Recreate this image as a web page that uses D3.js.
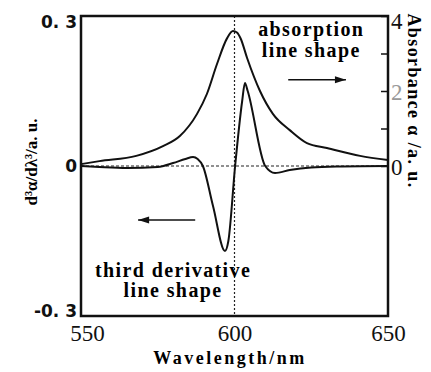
<!DOCTYPE html>
<html>
<head>
<meta charset="utf-8">
<script src="https://cdn.jsdelivr.net/npm/d3@7"></script>
<style>
  body { margin: 0; background: #fff; }
  svg { display: block; }
</style>
</head>
<body>
<svg id="chart"></svg>
<script>
// absorption line shape (right axis, absorbance)
var absWl  = [550, 556, 568, 576.7, 582.2, 587.8, 591, 594.3, 597.6, 599.5, 600.8, 602, 604.1, 608.3, 612.5, 618.1, 623.6, 630.1, 640.9, 650]
var absVal = [0.05, 0.13, 0.27, 0.53, 0.8, 1.39, 1.92, 2.72, 3.41, 3.6, 3.56, 3.4, 2.88, 2.0, 1.39, 0.95, 0.61, 0.48, 0.27, 0.16]

// third derivative line shape (left axis)
var derWl  = [550, 556, 565, 575, 580, 584, 586.5, 588, 589.7, 593, 596.9, 598, 600.2, 602.5, 603.4, 604.3, 610, 613.2, 618, 625, 635, 650]
var derVal = [0, -0.002, -0.004, -0.002, 0.006, 0.014, 0.018, 0.014, 0, -0.08, -0.17, -0.15, 0, 0.13, 0.166, 0.15, 0, -0.014, -0.008, -0.003, -0.001, 0]

var xTicks = [550, 600, 650]
var leftTicks = [-0.3, 0, 0.3]
var leftTickText = ["-0. 3", "0", "0. 3"]
var rightTicks = [0, 1, 2, 3, 4]
var rightTickText = {0: "0", 2: "2", 4: "4"}

var screen = { width: 431, height: 372 }
var margin = { left: 81, right: 43, top: 16, bottom: 56 }
var width = screen.width - margin.left - margin.right
var height = screen.height - margin.top - margin.bottom

var svg = d3.select("#chart")
  .attr("width", screen.width)
  .attr("height", screen.height)

var g = svg.append("g")
  .attr("transform", "translate(" + margin.left + "," + margin.top + ")")

var xScale = d3.scaleLinear().domain([550, 650]).range([0, width])
var yLeft = d3.scaleLinear().domain([-0.3, 0.3]).range([height, 0])
var yRight = d3.scaleLinear().domain([-4, 4]).range([height, 0])

// dotted guides at 600 nm and zero
g.append("line")
  .attr("x1", xScale(600)).attr("x2", xScale(600))
  .attr("y1", 0).attr("y2", height)
  .attr("stroke", "#222").attr("stroke-width", 1.2)
  .attr("stroke-dasharray", "2,2")
g.append("line")
  .attr("x1", 0).attr("x2", width)
  .attr("y1", yLeft(0)).attr("y2", yLeft(0))
  .attr("stroke", "#222").attr("stroke-width", 1.2)
  .attr("stroke-dasharray", "3,2")

var absData = absWl.map(function(d, i){ return [d, absVal[i]] })
var derData = derWl.map(function(d, i){ return [d, derVal[i]] })

var absLine = d3.line()
  .x(function(d){ return xScale(d[0]) })
  .y(function(d){ return yRight(d[1]) })
  .curve(d3.curveMonotoneX)

var derLine = d3.line()
  .x(function(d){ return xScale(d[0]) })
  .y(function(d){ return yLeft(d[1]) })
  .curve(d3.curveMonotoneX)

g.append("path")
  .datum(absData)
  .attr("d", absLine)
  .attr("fill", "none")
  .attr("stroke", "#111")
  .attr("stroke-width", 2)

g.append("path")
  .datum(derData)
  .attr("d", derLine)
  .attr("fill", "none")
  .attr("stroke", "#111")
  .attr("stroke-width", 2)

// frame
g.append("rect")
  .attr("x", 0).attr("y", 0)
  .attr("width", width).attr("height", height)
  .attr("fill", "none")
  .attr("stroke", "#111")
  .attr("stroke-width", 2.5)

// bottom axis
var xAxis = d3.axisBottom(xScale).tickValues(xTicks).tickSize(0).tickFormat(d3.format("d"))
var gx = g.append("g")
  .attr("transform", "translate(0," + height + ")")
  .call(xAxis)
gx.select(".domain").remove()
gx.selectAll("text")
  .attr("y", 25).attr("dy", 0)
  .attr("dx", function(d){ return d == 550 ? 6 : 0 })
  .attr("fill", "#111")
  .style("font-family", "'Liberation Serif', serif")
  .style("font-size", "23px")

// left axis
var yAxisL = d3.axisLeft(yLeft).tickValues(leftTicks).tickSize(0)
  .tickFormat(function(d, i){ return leftTickText[i] })
var gl = g.append("g").call(yAxisL)
gl.select(".domain").remove()
gl.selectAll("text")
  .attr("x", -4)
  .attr("dy", function(d){ return d > 0 ? "0.65em" : (d < 0 ? "0em" : "0.35em") })
  .attr("fill", "#111")
  .style("font-family", "'DejaVu Sans', sans-serif")
  .style("font-weight", "bold")
  .style("font-size", "17px")

// right axis, ticks inward
var yAxisR = d3.axisRight(yRight).tickValues(rightTicks).tickSizeInner(-7).tickSizeOuter(0)
  .tickFormat(function(d){ return rightTickText[d] || "" })
var gr = g.append("g")
  .attr("transform", "translate(" + width + ",0)")
  .call(yAxisR)
gr.select(".domain").remove()
gr.selectAll("line").attr("stroke", "#111").attr("stroke-width", 1.5)
gr.selectAll("text")
  .attr("x", 3)
  .attr("dy", function(d){ return d == 4 ? "0.55em" : "0.35em" })
  .attr("fill", function(d){ return d == 2 ? "#999" : "#111" })
  .style("font-family", "'Liberation Serif', serif")
  .style("font-size", "23px")

// axis titles
svg.append("text")
  .attr("x", 230).attr("y", 364)
  .attr("text-anchor", "middle")
  .style("font-family", "'Liberation Serif', serif")
  .style("font-weight", "bold")
  .style("font-size", "18px")
  .style("letter-spacing", "2.5px")
  .text("Wavelength/nm")

svg.append("text")
  .attr("transform", "translate(37,162) rotate(-90)")
  .attr("text-anchor", "middle")
  .style("font-family", "'Liberation Serif', serif")
  .style("font-weight", "bold")
  .style("font-size", "17px")
  .text("d³α/dλ³/a. u.")

svg.append("text")
  .attr("transform", "translate(408,101) rotate(90)")
  .attr("text-anchor", "middle")
  .style("font-family", "'Liberation Serif', serif")
  .style("font-weight", "bold")
  .style("font-size", "18px")
  .style("letter-spacing", "1.4px")
  .text("Absorbance α /a. u.")

// annotations
var note = function(lines, wl, y0, gap){
  var t = g.append("text")
    .attr("text-anchor", "middle")
    .style("font-family", "'Liberation Serif', serif")
    .style("font-weight", "bold")
    .style("font-size", "20px")
    .style("letter-spacing", "1.4px")
  lines.forEach(function(s, i){
    t.append("tspan").attr("x", xScale(wl)).attr("y", y0 + i*gap).text(s)
  })
}
note(["absorption", "line shape"], 625, yRight(3.46), 21)
note(["third derivative", "line shape"], 580, yLeft(-0.222), 20)

var arrow = function(w1, w2, y, dir){
  g.append("line")
    .attr("x1", xScale(w1)).attr("x2", xScale(w2))
    .attr("y1", y).attr("y2", y)
    .attr("stroke", "#111").attr("stroke-width", 1.6)
  var tip = dir > 0 ? xScale(w2) : xScale(w1)
  g.append("path")
    .attr("d", "M" + tip + "," + y + "l" + (-dir*11) + ",-3.5l0,7z")
    .attr("fill", "#111")
}
arrow(617.5, 636.3, yRight(2.3), 1)
arrow(568.6, 587.2, yLeft(-0.108), -1)
</script>
</body>
</html>
